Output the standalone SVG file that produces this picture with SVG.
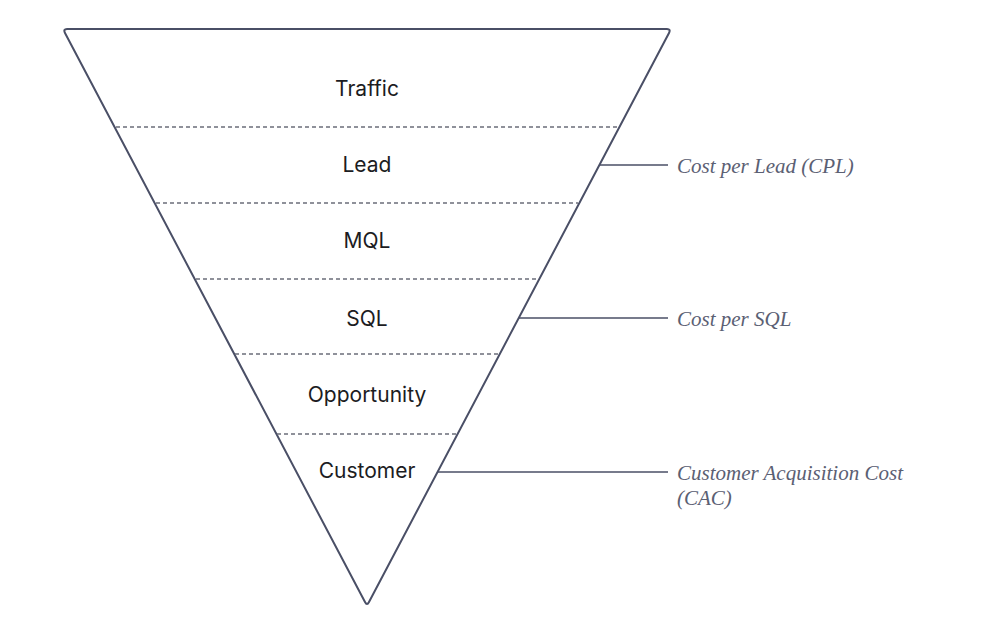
<svg xmlns="http://www.w3.org/2000/svg" width="1000" height="632" viewBox="0 0 1000 632">
<style>
.stage{font-family:Inter,"Liberation Sans",sans-serif;font-size:21px;fill:#1c1c22;text-anchor:middle}
.metric{font-family:"Liberation Serif",serif;font-style:italic;font-size:21px;fill:#5b6073}
.div{stroke:#6b6e7a;stroke-width:1.3;stroke-dasharray:4 3;fill:none}
.conn{stroke:#4a4f66;stroke-width:1.4;fill:none}
</style>
<rect width="1000" height="632" fill="#ffffff"/>
<g id="funnel">
<path d="M67,29 L667,29 Q671,29 669,33 L369,602 Q367,606 365,602 L65,33 Q63,29 67,29 Z" fill="none" stroke="#4a4f66" stroke-width="2" stroke-linejoin="round"/>
</g>
<g id="dividers">
<line class="div" x1="116" y1="127" x2="618" y2="127"/>
<line class="div" x1="156" y1="203" x2="578" y2="203"/>
<line class="div" x1="196" y1="279" x2="538" y2="279"/>
<line class="div" x1="235" y1="354" x2="499" y2="354"/>
<line class="div" x1="277" y1="434" x2="457" y2="434"/>
</g>
<g id="traffic"><text class="stage" x="367" y="96">Traffic</text></g>
<g id="lead"><text class="stage" x="367" y="172">Lead</text></g>
<g id="mql"><text class="stage" x="367" y="248">MQL</text></g>
<g id="sql"><text class="stage" x="367" y="326">SQL</text></g>
<g id="opportunity"><text class="stage" x="367" y="402">Opportunity</text></g>
<g id="customer"><text class="stage" x="367" y="478">Customer</text></g>
<g id="connectors">
<line class="conn" x1="599" y1="165" x2="668" y2="165"/>
<line class="conn" x1="519" y1="318" x2="668" y2="318"/>
<line class="conn" x1="438" y1="472" x2="668" y2="472"/>
</g>
<g id="cpl"><text class="metric" x="677" y="173">Cost per Lead (CPL)</text></g>
<g id="cpsql"><text class="metric" x="677" y="326">Cost per SQL</text></g>
<g id="cac"><text class="metric" x="677" y="480">Customer Acquisition Cost</text><text class="metric" x="677" y="505">(CAC)</text></g>
</svg>
